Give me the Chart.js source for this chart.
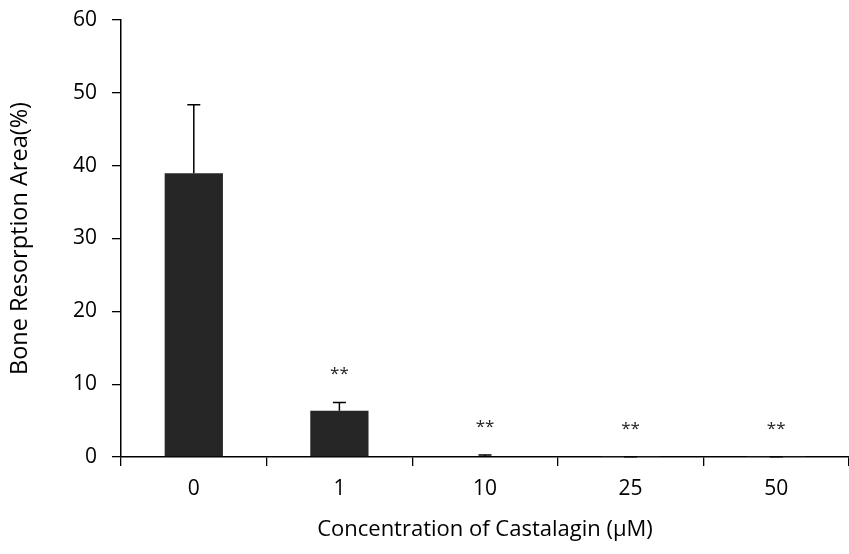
<!DOCTYPE html>
<html>
<head>
<meta charset="utf-8">
<script src="https://cdn.jsdelivr.net/npm/chart.js@4.4.1/dist/chart.umd.min.js"></script>
<style>
html,body{margin:0;padding:0;background:#fff;}
#wrap{width:849px;height:554px;}
</style>
</head>
<body>
<div id="wrap"><canvas id="c" width="849" height="554"></canvas></div>
<script>
const categories = ['0', '1', '10', '25', '50'];
const means = [38.95, 6.35, 0.12, 0.03, 0.03];
const errors = [9.4, 1.15, 0.14, 0.02, 0.02];
const significance = ['', '**', '**', '**', '**'];
const yTicks = [0, 10, 20, 30, 40, 50, 60];

const FONT = "'Open Sans', 'Noto Sans', sans-serif";

const errorPlugin = {
  id: 'errorBars',
  afterDatasetsDraw(chart) {
    const ctx = chart.ctx;
    const x = chart.scales.x, y = chart.scales.y;
    ctx.save();
    ctx.strokeStyle = '#000';
    ctx.lineWidth = 1.5;
    means.forEach((m, i) => {
      const cx = x.getPixelForValue(i);
      const top = y.getPixelForValue(m + errors[i]);
      const base = y.getPixelForValue(m);
      ctx.beginPath();
      ctx.moveTo(cx, base);
      ctx.lineTo(cx, top);
      ctx.moveTo(cx - 6.5, top);
      ctx.lineTo(cx + 6.5, top);
      ctx.stroke();
      if (significance[i]) {
        ctx.fillStyle = '#222';
        ctx.font = '17px ' + FONT;
        ctx.textAlign = 'center';
        ctx.textBaseline = 'alphabetic';
        ctx.fillText(significance[i], cx, top - 23);
      }
    });
    ctx.restore();
  }
};

new Chart(document.getElementById('c'), {
  type: 'bar',
  data: {
    labels: categories,
    datasets: [{
      data: means,
      backgroundColor: '#262626',
      borderWidth: 0,
      categoryPercentage: 1.0,
      barPercentage: 0.4
    }]
  },
  options: {
    responsive: false,
    animation: false,
    devicePixelRatio: 1,
    layout: { padding: { top: 20, right: 0, left: 0, bottom: 0 } },
    plugins: { legend: { display: false }, tooltip: { enabled: false } },
    scales: {
      x: {
        offset: true,
        grid: { display: true, drawOnChartArea: false, offset: true, tickLength: 9, color: '#000', lineWidth: 1.3 },
        border: { color: '#000', width: 1.5 },
        ticks: { color: '#000', font: { family: FONT, size: 21 }, padding: 10 },
        title: { display: true, text: 'Concentration of Castalagin (µM)', color: '#000', font: { family: FONT, size: 22 }, padding: { top: 0, bottom: 11 } },
        afterFit(s) { s.height = 97; s.paddingLeft = 0; s.paddingRight = 0; }
      },
      y: {
        min: 0, max: 60,
        afterBuildTicks(s) { s.ticks = yTicks.map(v => ({ value: v })); },
        grid: { display: true, drawOnChartArea: false, tickLength: 9, color: '#000', lineWidth: 1.3 },
        border: { color: '#000', width: 1.5 },
        ticks: { color: '#000', font: { family: FONT, size: 21 }, padding: 15 },
        title: { display: true, text: 'Bone Resorption Area(%)', color: '#000', font: { family: FONT, size: 23.5 }, padding: { top: 6, bottom: 0 } },
        afterFit(s) { s.width = 121; s.paddingTop = 0; s.paddingBottom = 0; }
      }
    }
  },
  plugins: [errorPlugin]
});
</script>
</body>
</html>
